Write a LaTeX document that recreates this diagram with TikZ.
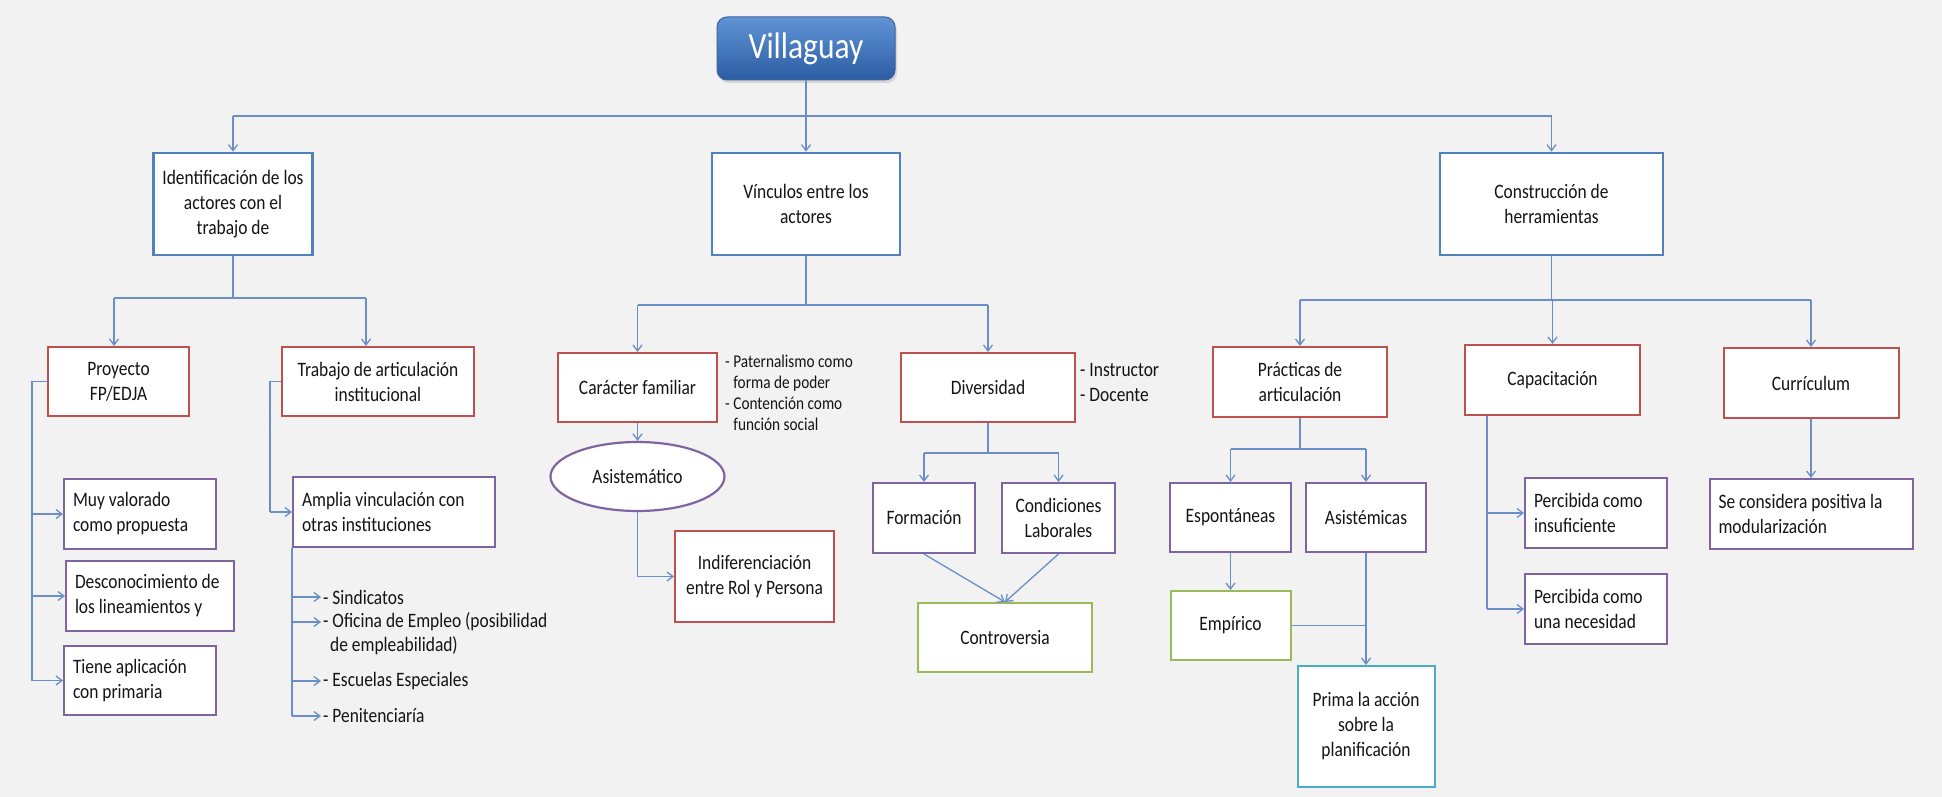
\documentclass[tikz,border=0pt]{standalone}
\usepackage{fontspec}
\newfontfamily\cf[FakeStretch=0.85]{Carlito}
\usetikzlibrary{arrows.meta,shapes.geometric,calc,shadows}
\definecolor{bg}{RGB}{242,242,242}
\definecolor{lnk}{RGB}{108,142,198}
\definecolor{bbl}{RGB}{79,129,189}
\definecolor{brd}{RGB}{192,80,77}
\definecolor{bpu}{RGB}{128,100,162}
\definecolor{bgr}{RGB}{155,187,89}
\definecolor{bte}{RGB}{75,172,198}
\definecolor{txt}{RGB}{20,20,20}
\begin{document}
\begin{tikzpicture}[x=1pt,y=-1pt,
  every node/.style={font=\cf\fontsize{20.5}{25}\selectfont, text=txt, inner sep=0pt},
  sz/.style 2 args={minimum width=#1, minimum height=#2},
  box/.style={draw, line width=2pt, fill=white, align=center},
  bluebox/.style={box, draw=bbl, line width=2.6pt},
  redbox/.style={box, draw=brd},
  purbox/.style={box, draw=bpu},
  grnbox/.style={box, draw=bgr},
  tealbox/.style={box, draw=bte},
  lft/.style={align=flush left, inner xsep=9pt, text width=#1},
  note/.style={align=flush left, font=\cf\fontsize{18}{21}\selectfont},
  lk/.style={draw=lnk, line width=1.3pt},
  arr/.style={lk, -{Straight Barb[length=6pt,width=9pt]}},
  item/.style={anchor=west, inner xsep=2pt}
]
\fill[bg] (0,0) rectangle (1942,797);
\useasboundingbox (0,0) rectangle (1942,797);

% title
\node[rounded corners=10pt, top color={rgb,255:red,96;green,148;blue,214}, bottom color={rgb,255:red,44;green,92;blue,163},
  draw={rgb,255:red,60;green,100;blue,160}, line width=1pt, sz={178}{63},
  drop shadow={opacity=0.25, shadow xshift=2pt, shadow yshift=-3pt},
  text=white, font=\cf\fontsize{37}{40}\selectfont] (vil) at (806,48.5) {Villaguay};

% level 1
\node[bluebox, sz={159}{102}] (ident) at (233,204) {Identificación de los\\actores con el\\trabajo de};
\node[bluebox, sz={188}{102}] (vinc) at (806,204) {Vínculos entre los\\actores};
\node[bluebox, sz={223}{102}] (cons) at (1551.5,204) {Construcción de\\herramientas};

% left branch
\node[redbox, sz={141}{69}] (proy) at (118.5,381.5) {Proyecto\\FP/EDJA};
\node[redbox, sz={192}{69}] (trab) at (378,381.5) {Trabajo de articulación\\institucional};
\node[purbox, sz={152}{70}, lft=134] (muy) at (140,514) {Muy valorado\\como propuesta};
\node[purbox, sz={168}{70}, lft=150] (desc) at (150,596) {Desconocimiento de\\los lineamientos y};
\node[purbox, sz={152}{69}, lft=134] (tiene) at (140,680.5) {Tiene aplicación\\con primaria};
\node[purbox, sz={202}{70}, lft=184] (amplia) at (394,512) {Amplia vinculación con\\otras instituciones};
\node[item] (l1) at (321,597) {- Sindicatos};
\node[item] (l2) at (321,622) {- Oficina de Empleo (posibilidad};
\node[item] (l2b) at (328,646) {de empleabilidad)};
\node[item] (l3) at (321,681) {- Escuelas Especiales};
\node[item] (l4) at (321,716) {- Penitenciaría};

% middle branch
\node[redbox, sz={159}{69}] (car) at (637.5,387.5) {Carácter familiar};
\node[note, anchor=north west] (carn) at (725,355) {- Paternalismo como\\\phantom{- }forma de poder\\- Contención como\\\phantom{- }función social};
\node[ellipse, draw=bpu, line width=2.2pt, fill=white, sz={174}{69}] (ell) at (637.5,476.5) {Asistemático};
\node[redbox, sz={159}{91}] (indif) at (754.5,576.5) {Indiferenciación\\entre Rol y Persona};
\node[redbox, sz={174}{69}] (div) at (988,387.5) {Diversidad};
\node[align=flush left, anchor=north west] (divn) at (1080,363) {- Instructor\\- Docente};
\node[purbox, sz={102}{70}] (form) at (924,518) {Formación};
\node[purbox, sz={113}{70}] (cond) at (1058.5,518) {Condiciones\\Laborales};
\node[grnbox, sz={174}{69}] (contr) at (1005,637.5) {Controversia};

% right branch
\node[redbox, sz={174}{70}] (prac) at (1300,382) {Prácticas de\\articulación};
\node[redbox, sz={175}{70}] (capa) at (1552.5,380) {Capacitación};
\node[redbox, sz={175}{70}] (curr) at (1811,383) {Currículum};
\node[purbox, sz={121}{69}] (espo) at (1230.5,517.5) {Espontáneas};
\node[purbox, sz={120}{69}] (asis) at (1366,517.5) {Asistémicas};
\node[grnbox, sz={120}{69}] (emp) at (1230.5,625.5) {Empírico};
\node[tealbox, sz={137}{121}] (prima) at (1366,726.5) {Prima la acción\\sobre la\\planificación};
\node[purbox, sz={142}{70}, lft=124] (pins) at (1596,513) {Percibida como\\insuficiente};
\node[purbox, sz={142}{70}, lft=124] (pnec) at (1596,609) {Percibida como\\una necesidad};
\node[purbox, sz={203}{70}, lft=185] (secons) at (1811,514) {Se considera positiva la\\modularización};

% connectors: top
\coordinate (b0) at (806,116);
\draw[lk] (vil.south) -- (b0);
\draw[lk] (ident.north |- b0) -- (cons.north |- b0);
\draw[arr] (ident.north |- b0) -- (ident.north);
\draw[arr] (b0) -- (vinc.north);
\draw[arr] (cons.north |- b0) -- (cons.north);

% ident
\coordinate (b1) at (233,298);
\coordinate (b1l) at (114,298);
\coordinate (b1r) at (366,298);
\draw[lk] (ident.south) -- (b1);
\draw[lk] (b1l) -- (b1r);
\draw[arr] (b1l) -- (b1l |- proy.north);
\draw[arr] (b1r) -- (b1r |- trab.north);

\coordinate (px) at (32,400);
\draw[lk] (proy.west) -| (px |- tiene.west);
\draw[arr] (px |- muy.west) -- (muy.west);
\draw[arr] (px |- desc.west) -- (desc.west);
\draw[arr] (px |- tiene.west) -- (tiene.west);

\coordinate (tx) at (270,400);
\draw[lk] (trab.west) -| (tx |- amplia.west);
\draw[arr] (tx |- amplia.west) -- (amplia.west);

\draw[lk] (amplia.south west) -- (amplia.south west |- l4.west);
\draw[arr] (amplia.south west |- l1.west) -- (l1.west);
\draw[arr] (amplia.south west |- l2.west) -- (l2.west);
\draw[arr] (amplia.south west |- l3.west) -- (l3.west);
\draw[arr] (amplia.south west |- l4.west) -- (l4.west);

% vinc
\coordinate (b2) at (806,305);
\draw[lk] (vinc.south) -- (b2);
\draw[lk] (car.north |- b2) -- (div.north |- b2);
\draw[arr] (car.north |- b2) -- (car.north);
\draw[arr] (div.north |- b2) -- (div.north);
\draw[arr] (car.south) -- (ell.north);
\draw[arr] (ell.south) |- (indif.west);

\coordinate (b3) at (988,453);
\draw[lk] (div.south) -- (b3);
\draw[lk] (form.north |- b3) -- (cond.north |- b3);
\draw[arr] (form.north |- b3) -- (form.north);
\draw[arr] (cond.north |- b3) -- (cond.north);
\draw[arr] (form.south) -- (contr.north);
\draw[arr] (cond.south) -- (contr.north);

% cons
\coordinate (b4) at (1551.5,300);
\draw[lk] (cons.south) -- (b4);
\draw[lk] (prac.north |- b4) -- (curr.north |- b4);
\draw[arr] (prac.north |- b4) -- (prac.north);
\draw[arr] (capa.north |- b4) -- (capa.north);
\draw[arr] (curr.north |- b4) -- (curr.north);

\coordinate (b5) at (1300,449);
\draw[lk] (prac.south) -- (b5);
\draw[lk] (espo.north |- b5) -- (asis.north |- b5);
\draw[arr] (espo.north |- b5) -- (espo.north);
\draw[arr] (asis.north |- b5) -- (asis.north);
\draw[arr] (espo.south) -- (emp.north);
\draw[arr] (asis.south) -- (prima.north);
\draw[lk] (emp.east) -- (emp.east -| asis.south);

\coordinate (cx) at (1487,400);
\draw[lk] (capa.south -| cx) -- (cx |- pnec.west);
\draw[arr] (cx |- pins.west) -- (pins.west);
\draw[arr] (cx |- pnec.west) -- (pnec.west);

\draw[arr] (curr.south) -- (secons.north);
\end{tikzpicture}
\end{document}
